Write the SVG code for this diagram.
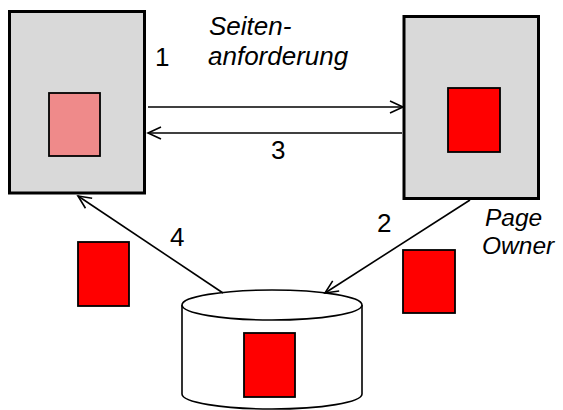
<svg xmlns="http://www.w3.org/2000/svg" width="563" height="410" viewBox="0 0 563 410">
  <defs>
    <marker id="arr" markerUnits="userSpaceOnUse" markerWidth="20" markerHeight="20" refX="0" refY="0" orient="auto" overflow="visible">
      <path d="M -13 -6 L 0 0 L -13 6" fill="none" stroke="#000" stroke-width="1.6"/>
    </marker>
  </defs>
  <style>
    .box { fill: #d9d9d9; stroke: #000; stroke-width: 3; }
    .doc { fill: #ff0000; stroke: #000; stroke-width: 1.8; }
    .doc-pale { fill: #ef8a8a; stroke: #000; stroke-width: 1.8; }
    .cyl { fill: #fff; stroke: #000; stroke-width: 1.6; }
    .conn { fill: none; stroke: #000; stroke-width: 1.6; marker-end: url(#arr); }
    .lbl { font-family: "Liberation Sans", Arial, sans-serif; font-size: 26px; fill: #000; }
    .it { font-style: italic; }
    .small { font-size: 24.5px; }
  </style>

  <g id="client">
    <rect class="box" x="9.5" y="11.5" width="135" height="181.5"/>
    <rect class="doc-pale" x="49" y="93" width="51" height="63"/>
  </g>

  <g id="server">
    <rect class="box" x="404" y="16.5" width="134.5" height="182"/>
    <rect class="doc" x="448" y="88" width="52" height="64"/>
  </g>

  <g id="database">
    <path class="cyl" d="M 182 305 L 182 394 A 90 15 0 0 0 362 394 L 362 305"/>
    <ellipse class="cyl" cx="272" cy="305" rx="90" ry="15"/>
    <rect class="doc" x="244" y="333" width="51" height="64"/>
  </g>

  <g id="doc-left">
    <rect class="doc" x="78" y="242" width="51" height="64"/>
  </g>

  <g id="doc-right">
    <rect class="doc" x="403" y="250" width="52" height="63"/>
  </g>

  <g id="connectors">
    <line class="conn" x1="148" y1="107" x2="403" y2="107"/>
    <line class="conn" x1="402" y1="133" x2="148" y2="133"/>
    <line class="conn" x1="470" y1="200" x2="325" y2="293"/>
    <line class="conn" x1="223" y1="293" x2="78" y2="196"/>
  </g>

  <g id="labels">
    <text class="lbl" x="155" y="66">1</text>
    <text class="lbl it"><tspan x="209" y="35">Seiten-</tspan><tspan x="208" y="65">anforderung</tspan></text>
    <text class="lbl" x="271" y="159">3</text>
    <text class="lbl" x="377" y="232">2</text>
    <text class="lbl" x="170" y="246">4</text>
    <text class="lbl it small"><tspan x="485" y="226">Page</tspan><tspan x="482" y="254">Owner</tspan></text>
  </g>
</svg>
